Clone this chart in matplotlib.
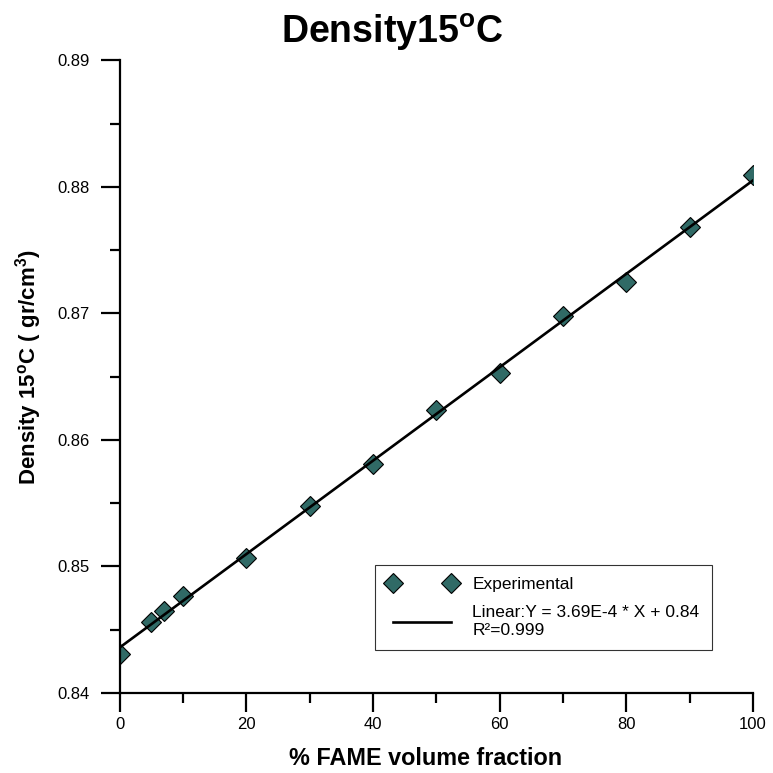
import numpy as np
import matplotlib.pyplot as plt
from matplotlib.ticker import MultipleLocator

plt.rcParams['font.family'] = ['Liberation Sans', 'DejaVu Sans']
plt.rcParams['mathtext.fontset'] = 'custom'
plt.rcParams['mathtext.rm'] = 'Liberation Sans'
plt.rcParams['mathtext.bf'] = 'Liberation Sans:bold'

# Données
fame = [0, 5, 7, 10, 20, 30, 40, 50, 60, 70, 80, 90, 100]
density = [0.8431, 0.8456, 0.8465, 0.8477, 0.8507, 0.8548, 0.8581,
           0.8624, 0.8653, 0.8698, 0.8725, 0.8768, 0.8809]
y_ticks = [0.84, 0.85, 0.86, 0.87, 0.88, 0.89]
y_tick_labels = ['0.84', '0.85', '0.86', '0.87', '0.88', '0.89']

# Régression linéaire
slope, intercept = np.polyfit(fame, density, 1)
x_fit = np.array([0, 100])
y_fit = slope * x_fit + intercept

fig = plt.figure(figsize=(7.73, 7.73), dpi=100)
ax = fig.add_axes([0.155, 0.1035, 0.819, 0.8185])

# la droite passe par-dessus les marqueurs
ax.plot(x_fit, y_fit, color='black', linewidth=1.9,
        label='Linear:Y = 3.69E-4 * X + 0.84\nR²=0.999', zorder=3)
ax.plot(fame, density, linestyle='none', marker='D', markersize=10.5,
        markerfacecolor='#306a66', markeredgecolor='black', markeredgewidth=0.8,
        label='Experimental', zorder=2)

ax.set_xlim(0, 100)
ax.set_ylim(0.84, 0.89)
ax.xaxis.set_major_locator(MultipleLocator(20))
ax.xaxis.set_minor_locator(MultipleLocator(10))
ax.yaxis.set_minor_locator(MultipleLocator(0.005))
ax.set_yticks(y_ticks)
ax.set_yticklabels(y_tick_labels)

for s in ['top', 'right']:
    ax.spines[s].set_visible(False)
for s in ['left', 'bottom']:
    ax.spines[s].set_linewidth(1.6)

ax.tick_params(which='major', direction='out', length=13.5, width=1.6, labelsize=12)
ax.tick_params(which='minor', direction='out', length=7, width=1.6)
ax.tick_params(axis='x', which='major', pad=3.5)
ax.tick_params(axis='y', which='major', pad=8)

ax.set_xlabel('% FAME volume fraction', fontsize=16.8, fontweight='bold', va='top')
ax.xaxis.set_label_coords(0.4835, -0.086)
ax.set_ylabel('Density 15$^\\mathbf{o}$C ( gr/cm$^\\mathbf{3}$)', fontsize=16,
              fontweight='bold')
ax.yaxis.set_label_coords(-0.119, 0.515)
fig.text(0.508, 0.958, 'Density15$^\\mathbf{o}$C', fontsize=27, fontweight='bold',
         ha='center', va='center')

handles, labels = ax.get_legend_handles_labels()
leg = ax.legend(handles[::-1], labels[::-1], loc='lower right',
                bbox_to_anchor=(0.935, 0.068), numpoints=2, fontsize=12.5,
                frameon=True, fancybox=False, edgecolor='black',
                handlelength=3.95, handletextpad=0.95, borderpad=0.7,
                labelspacing=0.75, borderaxespad=0)
leg.get_frame().set_linewidth(0.8)

plt.savefig('out.png', dpi=100)
